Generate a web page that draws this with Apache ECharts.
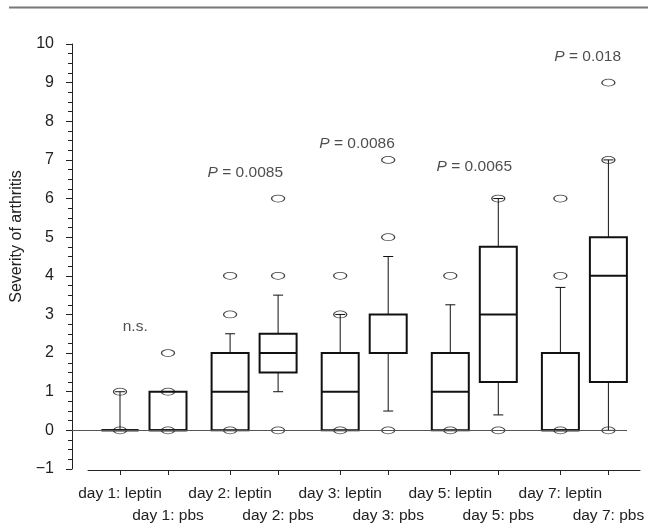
<!DOCTYPE html>
<html><head><meta charset="utf-8">
<script src="https://cdn.jsdelivr.net/npm/echarts@6/dist/echarts.min.js"></script>
<style>html,body{margin:0;padding:0;background:#fff}#c{width:648px;height:528px}</style>
</head><body><div id="c"></div>
<script>
// ---------- data ----------
const days = ['day 1', 'day 2', 'day 3', 'day 5', 'day 7'];
const groups = ['leptin', 'pbs'];
// [lower whisker, Q1, median, Q3, upper whisker]
const leptinStats = [[0,0,0,0,1],[0,0,1,2,2.5],[0,0,1,2,3],[0,0,1,2,3.25],[0,0,0,2,3.7]];
const pbsStats    = [[0,0,0,1,1],[1,1.5,2,2.5,3.5],[0.5,2,2,3,4.5],[0.4,1.25,3,4.75,6],[0,1.25,4,5,7]];
// individual points drawn as ellipses
const leptinPoints = [[0,1],[0,3,4],[0,3,4],[0,4],[0,4,6]];
const pbsPoints    = [[0,1,2],[0,4,6],[0,5,7],[0,6],[0,7,9]];
const pLabels = ['n.s.', 'P = 0.0085', 'P = 0.0086', 'P = 0.0065', 'P = 0.018'];
const yMin = -1, yMax = 10, yInterval = 1;

// ---------- layout constants ----------
const groupOffset = [-0.218, 0.218];               // box offset from day centre (day units)
const pLabelPos = [[-0.08,2.69],[-0.08,6.67],[-0.065,7.42],[0,6.83],[0.03,9.66]]; // [dx, y]
const FONT = "'Liberation Sans', Arial, Helvetica, sans-serif";
const INK = '#111';

const statsByGroup = [leptinStats, pbsStats];
const pointsByGroup = [leptinPoints, pbsPoints];

const boxData = [];
const pointData = [];
const groupTicks = [[], []];
const allTicks = [];
groups.forEach((g, gi) => {
  days.forEach((d, di) => {
    const x = di + groupOffset[gi];
    boxData.push([x].concat(statsByGroup[gi][di]));
    pointsByGroup[gi][di].forEach(v => pointData.push([x, v]));
    groupTicks[gi].push(x);
    allTicks.push(x);
  });
});
const labelData = pLabels.map((t, i) => ({ value: [i + pLabelPos[i][0], pLabelPos[i][1]], name: t }));

function tickLabel(gi) {
  return function (v) {
    let best = 0, bd = 1e9;
    groupTicks[gi].forEach((t, i) => { const dd = Math.abs(t - v); if (dd < bd) { bd = dd; best = i; } });
    return days[best] + ': ' + groups[gi];
  };
}

function renderBox(params, api) {
  const x = api.value(0);
  const lo = api.value(1), q1 = api.value(2), md = api.value(3), q3 = api.value(4), hi = api.value(5);
  const cx = api.coord([x, md])[0];
  const y = v => api.coord([x, v])[1];
  const bw = 37, cw = 10;
  const thin = { stroke: INK, lineWidth: 1 };
  const thick = { stroke: INK, lineWidth: 2, fill: null };
  const ch = [];
  if (hi > q3) {
    ch.push({ type: 'line', shape: { x1: cx, y1: y(q3), x2: cx, y2: y(hi) }, style: thin });
    ch.push({ type: 'line', shape: { x1: cx - cw / 2, y1: y(hi), x2: cx + cw / 2, y2: y(hi) }, style: thin });
  }
  if (lo < q1) {
    ch.push({ type: 'line', shape: { x1: cx, y1: y(q1), x2: cx, y2: y(lo) }, style: thin });
    ch.push({ type: 'line', shape: { x1: cx - cw / 2, y1: y(lo), x2: cx + cw / 2, y2: y(lo) }, style: thin });
  }
  ch.push({ type: 'rect', shape: { x: cx - bw / 2, y: y(q3), width: bw, height: y(q1) - y(q3) }, style: thick });
  ch.push({ type: 'line', shape: { x1: cx - bw / 2, y1: y(md), x2: cx + bw / 2, y2: y(md) }, style: { stroke: INK, lineWidth: 2 } });
  return { type: 'group', children: ch };
}

const labelAxisBase = {
  gridIndex: 1, type: 'value', min: -0.5086, max: 4.5051, position: 'bottom',
  splitLine: { show: false }
};

const chart = echarts.init(document.getElementById('c'), null, { renderer: 'canvas' });
chart.setOption({
  backgroundColor: '#fff',
  animation: false,
  textStyle: { fontFamily: FONT },
  graphic: [{
    type: 'line', shape: { x1: 9, y1: 7.5, x2: 648, y2: 7.5 },
    style: { stroke: '#777', lineWidth: 2 }
  }],
  grid: [
    { left: 72, right: 21, top: 44, bottom: 59 },
    { left: 88, right: 8, top: 469, height: 1 }
  ],
  xAxis: [
    { gridIndex: 0, type: 'value', min: -0.654, max: 4.387, show: false },
    Object.assign({}, labelAxisBase, {
      axisLine: { show: true, onZero: false, lineStyle: { color: '#222', width: 1 } },
      axisTick: { show: true, customValues: allTicks, length: 5, lineStyle: { color: '#222' } },
      axisLabel: {
        show: true, customValues: groupTicks[0], margin: 16,
        showMinLabel: true, showMaxLabel: true, hideOverlap: false,
        fontSize: 15.5, color: '#222', fontFamily: FONT, formatter: tickLabel(0)
      }
    }),
    Object.assign({}, labelAxisBase, {
      axisLine: { show: false, onZero: false },
      axisTick: { show: false },
      axisLabel: {
        show: true, customValues: groupTicks[1], margin: 38,
        showMinLabel: true, showMaxLabel: true, hideOverlap: false,
        fontSize: 15.5, color: '#222', fontFamily: FONT, formatter: tickLabel(1)
      }
    })
  ],
  yAxis: [
    {
      gridIndex: 0, type: 'value', min: yMin, max: yMax, interval: yInterval,
      name: 'Severity of arthritis', nameLocation: 'middle', nameGap: 33,
      nameTextStyle: { fontSize: 16, color: '#222', fontFamily: FONT, padding: [0, 0, 0, 40] },
      splitLine: { show: false },
      axisLine: { show: true, onZero: false, lineStyle: { color: '#222', width: 1 } },
      axisTick: { show: true, inside: false, length: 6, lineStyle: { color: '#222' } },
      minorTick: { show: true, splitNumber: 4, length: 4, lineStyle: { color: '#222' } },
      axisLabel: {
        margin: 18, fontSize: 16, color: '#222', fontFamily: FONT,
        formatter: v => (v < 0 ? '\u2212' + Math.abs(v) : String(v))
      }
    },
    { gridIndex: 1, type: 'value', show: false }
  ],
  series: [
    {
      type: 'custom', xAxisIndex: 0, yAxisIndex: 0, renderItem: renderBox,
      data: boxData, encode: { x: 0, y: [1, 2, 3, 4, 5] }, clip: false, z: 3,
      markLine: {
        silent: true, symbol: 'none', label: { show: false },
        lineStyle: { color: '#555', width: 1, type: 'solid' },
        data: [{ yAxis: 0 }]
      }
    },
    {
      type: 'scatter', xAxisIndex: 0, yAxisIndex: 0, data: pointData, z: 4,
      symbol: 'circle', symbolSize: [13, 7],
      itemStyle: { color: 'rgba(0,0,0,0)', borderColor: INK, borderWidth: 1 }
    },
    {
      type: 'scatter', xAxisIndex: 0, yAxisIndex: 0, data: labelData, z: 5,
      symbolSize: 1, itemStyle: { color: 'rgba(0,0,0,0)' },
      label: {
        show: true, position: 'inside', fontSize: 15.5, color: '#222', fontFamily: FONT,
        formatter: p => p.name.indexOf('P') === 0 ? '{i|P}' + p.name.slice(1) : p.name,
        rich: { i: { fontStyle: 'italic', fontSize: 15.5, color: '#222', fontFamily: FONT } }
      }
    }
  ]
});
</script>
</body></html>
